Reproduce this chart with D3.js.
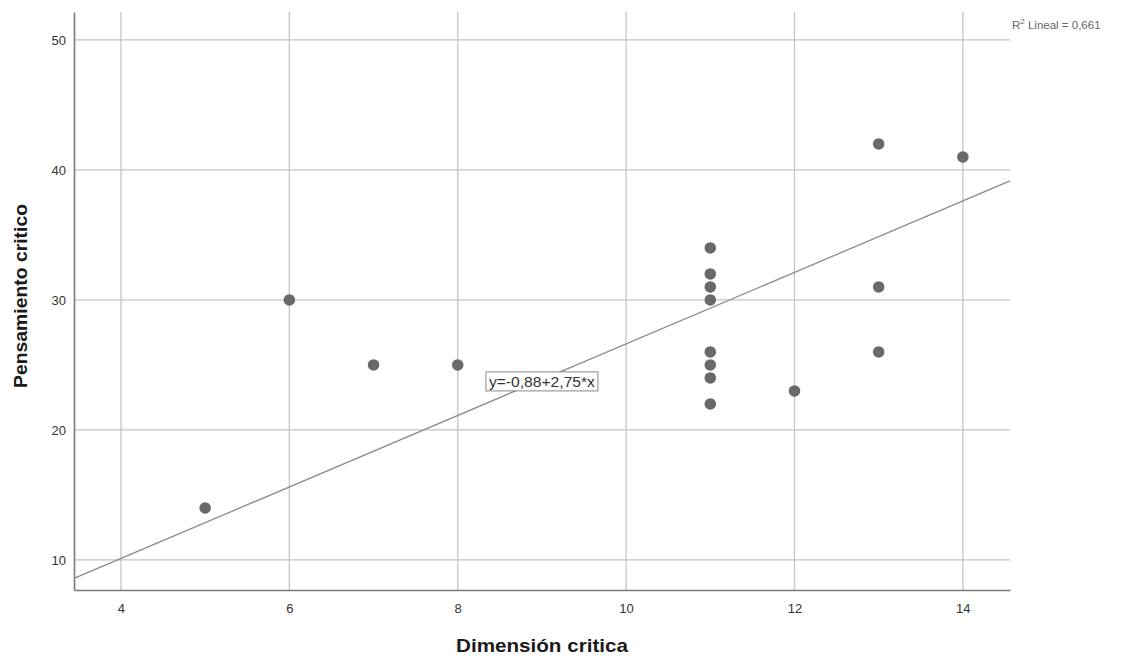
<!DOCTYPE html>
<html><head><meta charset="utf-8">
<script src="https://cdn.jsdelivr.net/npm/d3@7"></script>
<style>body{margin:0;background:#fff;} svg{display:block;font-family:Arial, "Liberation Sans", sans-serif;}</style>
</head><body>
<svg id="chart" width="1130" height="660"></svg>
<script>
const xValues = [5, 6, 7, 8, 11, 11, 11, 11, 11, 11, 11, 11, 12, 13, 13, 13, 14];
const yValues = [14, 30, 25, 25, 34, 32, 31, 30, 26, 25, 24, 22, 23, 42, 31, 26, 41];
const xTicks = [4, 6, 8, 10, 12, 14];
const yTicks = [10, 20, 30, 40, 50];
const intercept = -0.88, slope = 2.75;
const fitLabel = "y=-0,88+2,75*x";
const r2Label = "0,661";
const xTitle = "Dimensión critica", yTitle = "Pensamiento critico";

const svg = d3.select("#chart");
const L = 74, R = 1010, T = 12, B = 590;
const x = d3.scaleLinear().domain([3.442, 14.56]).range([L, R]);
const y = d3.scaleLinear().domain([7.69, 52.15]).range([B, T]);

// grid
svg.append("g").selectAll("line").data(yTicks).join("line")
  .attr("x1", L).attr("x2", R).attr("y1", d => y(d)).attr("y2", d => y(d))
  .attr("stroke", "#c4c4c4").attr("stroke-width", 1.3);
svg.append("g").selectAll("line").data(xTicks).join("line")
  .attr("x1", d => x(d)).attr("x2", d => x(d)).attr("y1", T).attr("y2", B)
  .attr("stroke", "#c4c4c4").attr("stroke-width", 1.3);

// axes
const xAxis = svg.append("g").attr("transform", `translate(0,${B})`)
  .call(d3.axisBottom(x).tickValues(xTicks).tickSize(0).tickPadding(14).tickFormat(d3.format("d")));
const yAxis = svg.append("g").attr("transform", `translate(${L},0)`)
  .call(d3.axisLeft(y).tickValues(yTicks).tickSize(0).tickPadding(8).tickFormat(d3.format("d")));
[xAxis, yAxis].forEach(g => {
  g.select(".domain").attr("stroke", "#7a7a7a").attr("stroke-width", 1.6);
  g.selectAll("text").attr("font-size", 13).attr("fill", "#333").attr("font-family", "Arial, 'Liberation Sans', sans-serif");
});

// regression line
const [x0, x1] = x.domain();
svg.append("line")
  .attr("x1", x(x0)).attr("y1", y(intercept + slope * x0))
  .attr("x2", x(x1)).attr("y2", y(intercept + slope * x1))
  .attr("stroke", "#8a8a8a").attr("stroke-width", 1.3);

// points
svg.append("g").selectAll("circle").data(xValues.map((v, i) => [v, yValues[i]])).join("circle")
  .attr("cx", d => x(d[0])).attr("cy", d => y(d[1])).attr("r", 5.8)
  .attr("fill", "#696969");

// fit label
const lx = 9, ly = intercept + slope * lx;
const lbl = svg.append("g").attr("transform", `translate(${x(lx)},${y(ly) + 2})`);
const lt = lbl.append("text").attr("text-anchor", "middle").attr("dy", "0.35em")
  .attr("font-size", 15).attr("fill", "#333")
  .attr("textLength", 106).attr("lengthAdjust", "spacingAndGlyphs").text(fitLabel);
const bb = lt.node().getBBox();
lbl.insert("rect", "text").attr("x", -56).attr("y", bb.y - 1)
  .attr("width", 112).attr("height", bb.height + 2)
  .attr("fill", "#fff").attr("stroke", "#888").attr("stroke-width", 1);

// R2 label
const r2 = svg.append("text").attr("x", 1012).attr("y", 29).attr("font-size", 11.5).attr("fill", "#666");
r2.append("tspan").text("R");
r2.append("tspan").attr("font-size", 8).attr("dy", -5).text("2");
r2.append("tspan").attr("dy", 5).text(" Lineal = " + r2Label);

// titles
svg.append("text").attr("x", 542).attr("y", 652).attr("text-anchor", "middle")
  .attr("font-size", 19).attr("font-weight", "bold").attr("fill", "#1a1a1a")
  .attr("textLength", 172).attr("lengthAdjust", "spacingAndGlyphs").text(xTitle);
svg.append("text").attr("transform", "translate(27,296) rotate(-90)").attr("text-anchor", "middle")
  .attr("font-size", 19).attr("font-weight", "bold").attr("fill", "#1a1a1a")
  .attr("textLength", 184).attr("lengthAdjust", "spacingAndGlyphs").text(yTitle);
</script>
</body></html>
